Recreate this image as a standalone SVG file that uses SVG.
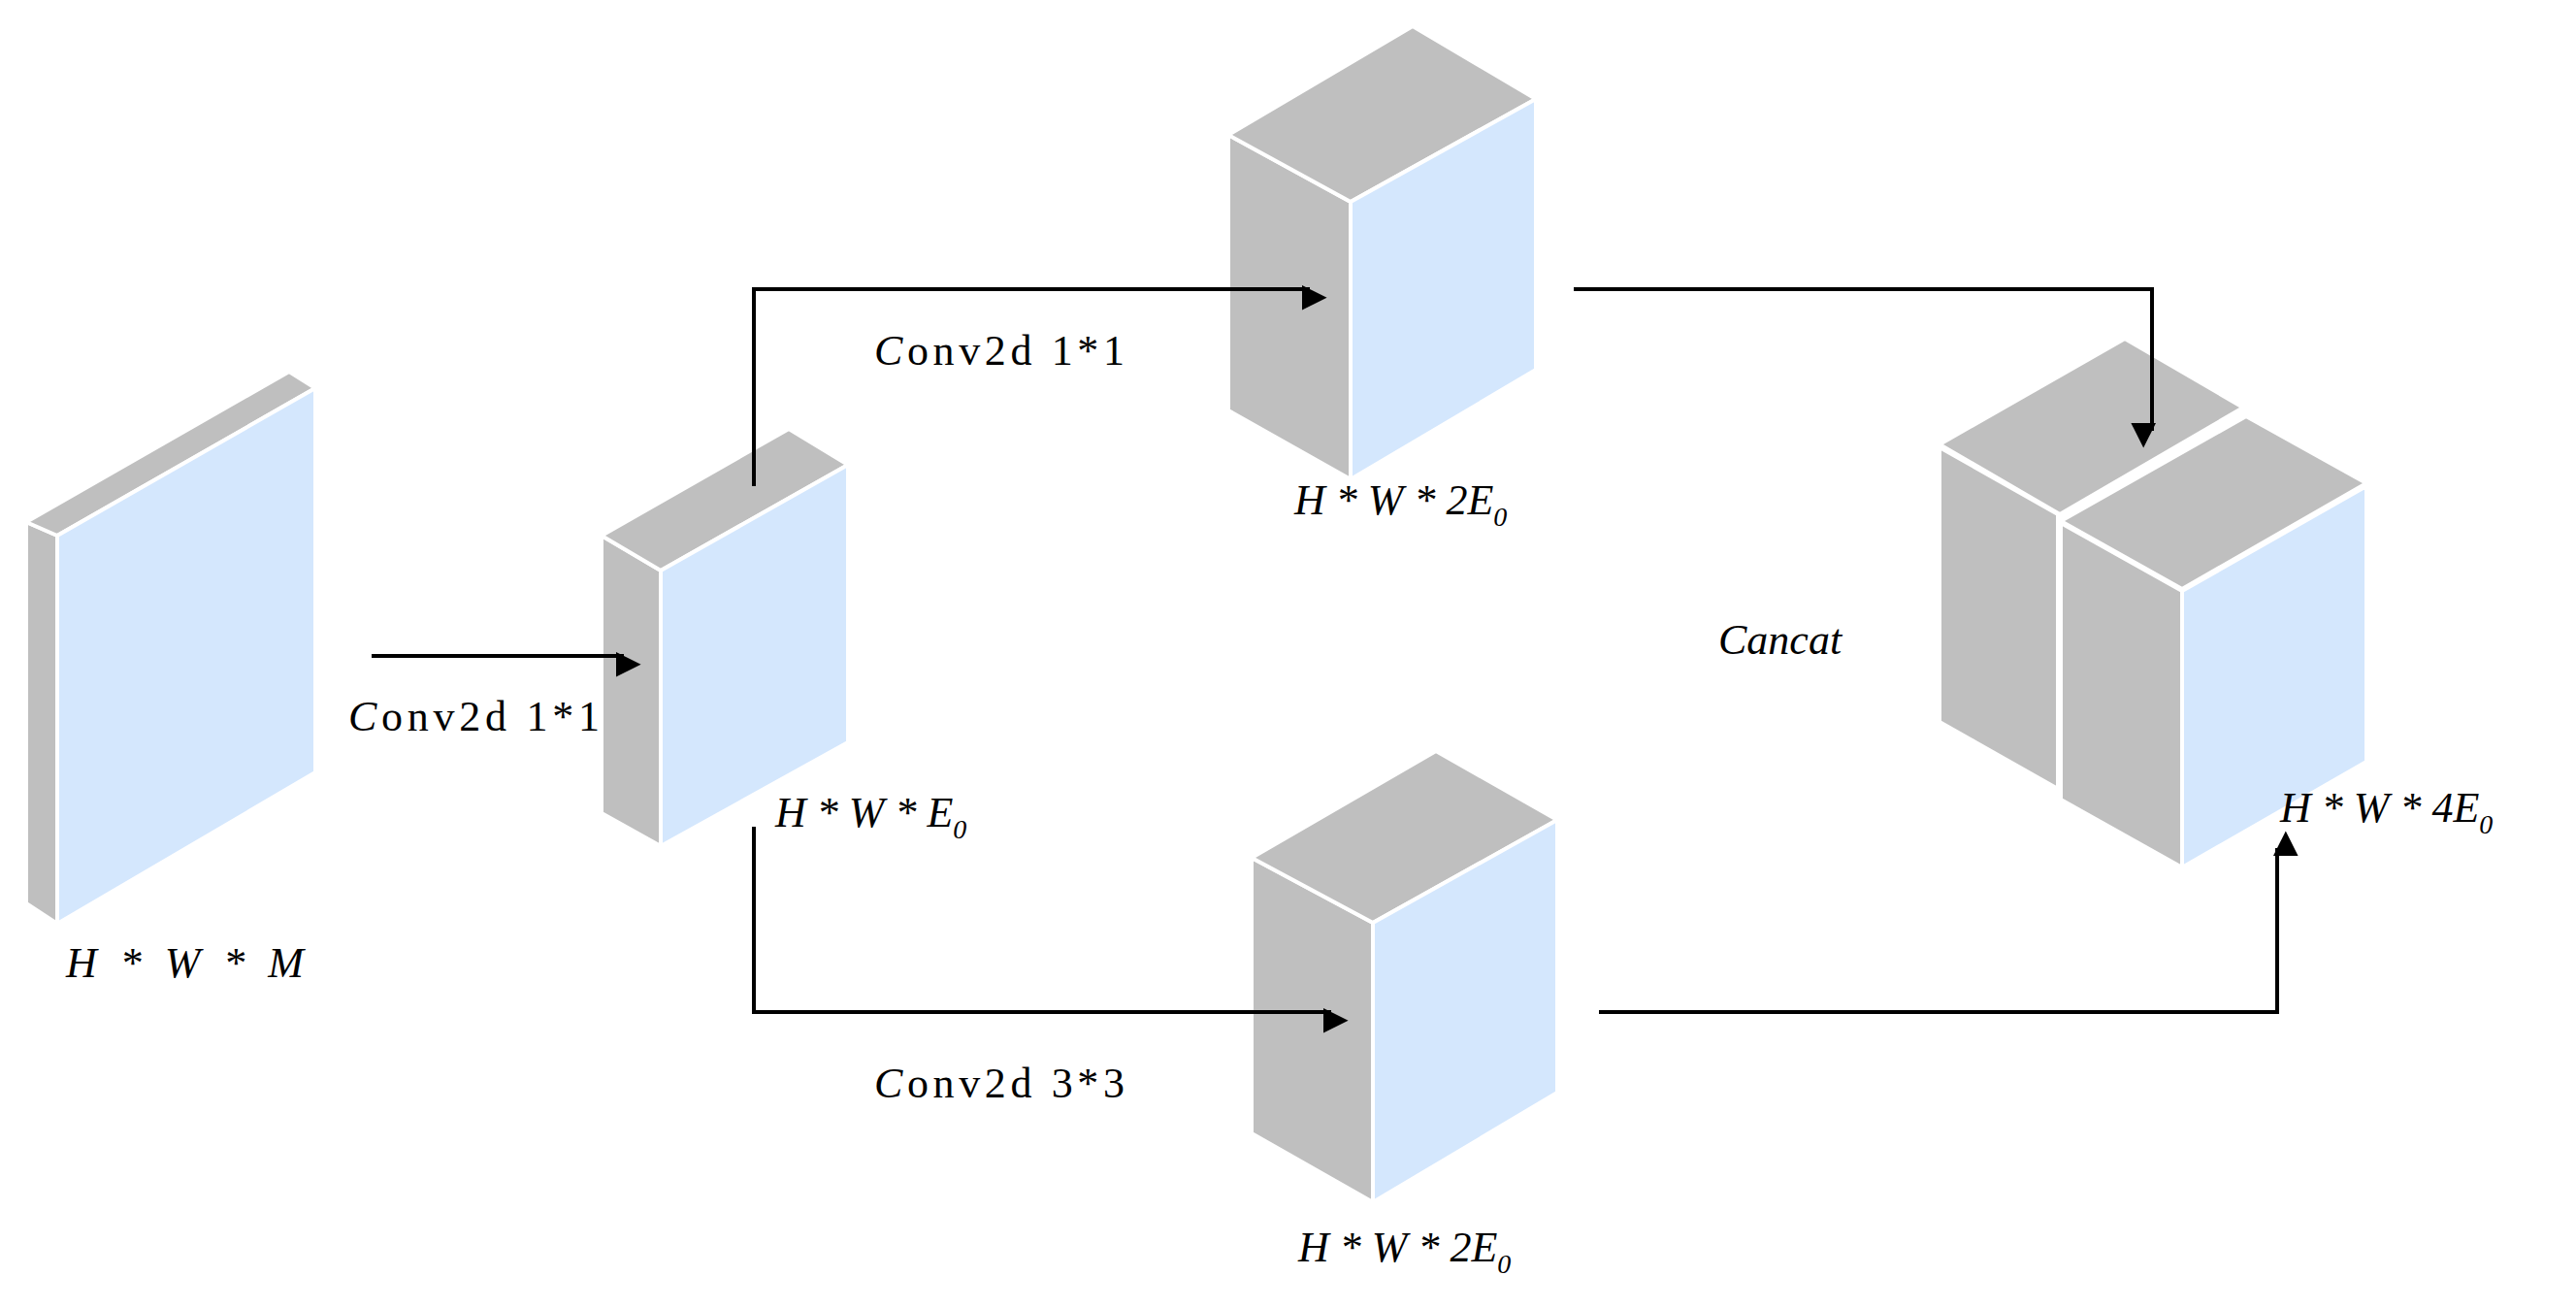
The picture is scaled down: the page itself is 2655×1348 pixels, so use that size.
<svg xmlns="http://www.w3.org/2000/svg" width="2655" height="1348" viewBox="0 0 2655 1348">
<style>
.s{fill:#bfbfbf;stroke:#fff;stroke-width:4;stroke-linejoin:round}
.f{fill:#d4e7fd;stroke:#fff;stroke-width:4;stroke-linejoin:round}
.c{fill:none;stroke:#000;stroke-width:4}
text{font-family:"Liberation Serif","DejaVu Serif",serif;font-size:44px;fill:#000}
.i{font-style:italic}
</style>
<defs><marker id="a" viewBox="0 0 10 10" refX="10" refY="5" markerWidth="8" markerHeight="8" markerUnits="userSpaceOnUse" orient="auto" style="overflow:visible"><path d="M0,0L10,5L0,10z" fill="#000" transform="scale(3.2)"/></marker></defs>
<rect width="2655" height="1348" fill="#fff"/>
<g id="n1">
<polygon class="s" points="27,538 59,552 59,952 27,931"/>
<polygon class="s" points="27,538 298,383 325,400 59,552"/>
<polygon class="f" points="59,552 325,400 325,796 59,952"/>
<text x="68" y="1007" textLength="245" class="i">H * W * M</text>
</g>
<g id="n2">
<polygon class="s" points="620,552 681,588 681,872 620,838"/>
<polygon class="s" points="620,552 813,442 874,479 681,588"/>
<polygon class="f" points="681,588 874,479 874,765 681,872"/>
<text x="799" y="852" class="i">H * W * E<tspan font-size="28" dy="12">0</tspan></text>
</g>
<g id="n3">
<polygon class="s" points="1266,139 1392,208 1392,494 1266,423"/>
<polygon class="s" points="1266,139 1456,27 1583,102 1392,208"/>
<polygon class="f" points="1392,208 1583,102 1583,381 1392,494"/>
<text x="1334" y="530" class="i">H * W * 2E<tspan font-size="28" dy="12">0</tspan></text>
</g>
<g id="n4">
<polygon class="s" points="1290,884 1415,951 1415,1239 1290,1168"/>
<polygon class="s" points="1290,884 1480,774 1605,845 1415,951"/>
<polygon class="f" points="1415,951 1605,845 1605,1126 1415,1239"/>
<text x="1338" y="1300" class="i">H * W * 2E<tspan font-size="28" dy="12">0</tspan></text>
</g>
<g id="n5">
<polygon class="s" points="1999,461 2121,530 2121,813 1999,744"/>
<polygon class="s" points="1999,458 2190,349 2312,420 2123,530"/>
<polygon class="s" points="2124,539 2249,609 2249,894 2124,824"/>
<polygon class="s" points="2124,537 2315,429 2439,498 2249,607"/>
<polygon class="f" points="2249,609 2439,501 2439,785 2249,894"/>
<text x="1771" y="674" class="i">Cancat</text>
<text x="2350" y="847" class="i">H * W * 4E<tspan font-size="28" dy="12">0</tspan></text>
</g>
<g id="connectors">
<path class="c" d="M383,676H643" marker-end="url(#a)"/>
<path class="c" d="M777,501V298H1350" marker-end="url(#a)"/>
<path class="c" d="M777,852V1043H1372" marker-end="url(#a)"/>
<path class="c" d="M1622,298H2218V444" marker-end="url(#a)"/>
<path class="c" d="M1648,1043H2347V874" marker-end="url(#a)"/>
<text x="359" y="753" textLength="259"><tspan class="i">C</tspan>onv2d  1*1</text>
<text x="901" y="376" textLength="258"><tspan class="i">C</tspan>onv2d  1*1</text>
<text x="901" y="1131" textLength="258"><tspan class="i">C</tspan>onv2d  3*3</text>
</g>
</svg>
